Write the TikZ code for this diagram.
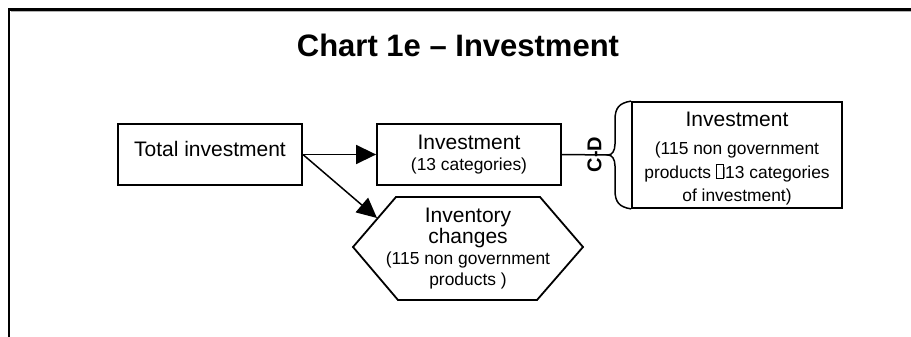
\documentclass[tikz,border=0pt]{standalone}
\usepackage{fontspec}
\setmainfont{Liberation Sans}
\usetikzlibrary{arrows.meta}
\newcommand\missingglyph{{\setlength\fboxsep{0pt}\setlength\fboxrule{0.9pt}\fbox{\rule{0pt}{13pt}\hspace{6pt}}}\textcolor{gray}{\rule{1.5pt}{11pt}}}
\begin{document}
\begin{tikzpicture}[x=1pt,y=-1pt,
  box/.style={draw,line width=1.8pt,rectangle,inner sep=0pt,align=center,
    font=\fontsize{17.4}{23.5}\selectfont},
  arr/.style={line width=1.5pt,-{Triangle[length=20pt,width=19pt]}},
  thin/.style={line width=1.5pt},
  hexline/.style={line width=1.8pt, line join=miter},
]
\useasboundingbox (0,0) rectangle (911,337);
\draw[line width=1.2pt, gray!60] (911,11.5) -- (11,11.5);
\draw[line width=2.6pt] (911,9.5) -- (9,9.5) -- (9,337);

\node[anchor=base, inner sep=0pt, font=\fontsize{31}{36}\selectfont\bfseries] (title) at (458,56.7) {Chart 1e – Investment};

\node[box, minimum width=184pt, minimum height=61pt, text height=15pt, text depth=10pt,
  font=\fontsize{21}{24}\selectfont] (tot) at (210,154.5) {Total investment};

\node[box, minimum width=184pt, minimum height=61pt,
  font=\fontsize{17.4}{21.5}\selectfont] (inv) at (469,154.5)
  {{\fontsize{21}{21.5}\selectfont Investment}\\(13 categories)};

\node[box, minimum width=210pt, minimum height=106pt, text height=97pt] (rinv) at (737,155)
  {{\fontsize{21}{23.5}\selectfont Investment}\\[4.5pt](115 non government\\products \missingglyph13 categories\\of investment)};

\node[align=center, inner sep=0pt, font=\fontsize{17.4}{21}\selectfont] (hex) at (468,248.5)
  {{\fontsize{21}{21}\selectfont Inventory}\\{\fontsize{21}{21}\selectfont changes}\\(115 non government\\products )};
\draw[hexline] (353,247) -- (396,197) -- (540,197) -- (583,247) -- (537,300) -- (398,300) -- cycle;

\coordinate (hexin) at (377,218);
\coordinate (tip) at (608,155);

\draw[arr] (tot.east) -- (inv.west);
\draw[arr] (tot.east) -- (hexin);

\draw[thin] (inv.east) -- (tip);
\node[rotate=90, inner sep=0pt, font=\fontsize{20}{20}\selectfont\bfseries] (cd) at (594.5,154.5) {C-D};

\draw[thin] (rinv.north west) .. controls (619,103) and (615,108) .. (615,120) -- (615,144)
  .. controls (615,151) and (612,155) .. (tip)
  .. controls (612,155) and (615,159) .. (615,166) -- (615,190)
  .. controls (615,202) and (619,207) .. (rinv.south west);
\end{tikzpicture}
\end{document}
